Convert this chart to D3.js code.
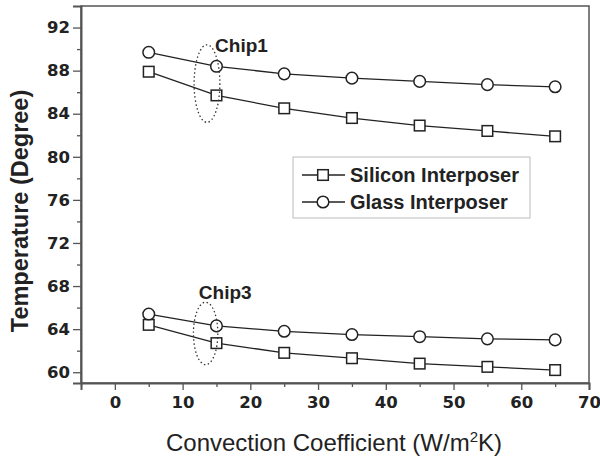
<!DOCTYPE html>
<html>
<head>
<meta charset="utf-8">
<script src="https://cdn.jsdelivr.net/npm/d3@7"></script>
<style>
  html, body { margin: 0; padding: 0; background: #fff; }
  svg { display: block; }
</style>
</head>
<body>
<svg id="chart" width="600" height="457"></svg>
<script>
// Convection coefficient (W/m^2K)
const coefficients = [5, 15, 25, 35, 45, 55, 65];

// Chip temperatures (degree) for each interposer
const siliconChip1 = [87.9, 85.7, 84.5, 83.6, 82.9, 82.4, 81.9];
const glassChip1   = [89.7, 88.4, 87.7, 87.3, 87.0, 86.7, 86.5];
const siliconChip3 = [64.4, 62.7, 61.8, 61.3, 60.8, 60.5, 60.2];
const glassChip3   = [65.4, 64.3, 63.8, 63.5, 63.3, 63.1, 63.0];

const xTicks = [0, 10, 20, 30, 40, 50, 60, 70];
const yTicks = [60, 64, 68, 72, 76, 80, 84, 88, 92];

// Chip group annotations: dotted ellipse centre/radii and label anchor, in data units
const chipNames   = ["Chip1", "Chip3"];
const chipCenterX = [13.6, 13.4];
const chipCenterY = [86.8, 63.6];
const chipRadiusX = [1.9, 1.8];
const chipRadiusY = [3.6, 2.9];
const chipLabelX  = [14.8, 12.4];
const chipLabelY  = [89.7, 66.8];

const legendNames = ["Silicon Interposer", "Glass Interposer"];

const svg = d3.select("#chart");
const margin = { left: 81, right: 11, top: 6, bottom: 74 };
const W = 600, H = 457;
const x = d3.scaleLinear().domain([-5, 70]).range([margin.left, W - margin.right]);
const y = d3.scaleLinear().domain([59, 94]).range([H - margin.bottom, margin.top]);

const ink = "#222";
const tickFont = "'DejaVu Sans', sans-serif";
const sans = "'Liberation Sans', Arial, sans-serif";

// Plot frame
svg.append("rect")
  .attr("x", x(-5)).attr("y", y(94))
  .attr("width", x(70) - x(-5)).attr("height", y(59) - y(94))
  .attr("fill", "none").attr("stroke", "#555").attr("stroke-width", 1.5);

// Minor ticks
const g = svg.append("g");
g.append("g")
  .attr("transform", `translate(0,${y(59)})`)
  .call(d3.axisBottom(x).tickValues(d3.range(-5, 70, 10)).tickSize(4).tickFormat(""))
  .call(s => s.select(".domain").remove())
  .selectAll("line").attr("stroke", "#555").attr("stroke-width", 1.3);
g.append("g")
  .attr("transform", `translate(${x(-5)},0)`)
  .call(d3.axisLeft(y).tickValues(d3.range(62, 94, 4)).tickSize(4).tickFormat(""))
  .call(s => s.select(".domain").remove())
  .selectAll("line").attr("stroke", "#555").attr("stroke-width", 1.3);

// Major axes
const xAxis = svg.append("g")
  .attr("transform", `translate(0,${y(59)})`)
  .call(d3.axisBottom(x).tickValues(xTicks).tickSize(7).tickPadding(6));
const yAxis = svg.append("g")
  .attr("transform", `translate(${x(-5)},0)`)
  .call(d3.axisLeft(y).tickValues(yTicks).tickSize(8).tickPadding(3));

[xAxis, yAxis].forEach(a => {
  a.select(".domain").attr("stroke", "#555").attr("stroke-width", 2);
  a.selectAll(".tick line").attr("stroke", "#555").attr("stroke-width", 1.3);
  a.selectAll(".tick text")
    .attr("fill", ink)
    .style("font-family", tickFont)
    .style("font-weight", "bold")
    .style("font-size", "16.5px");
});

// Axis titles
svg.append("text")
  .attr("x", 334).attr("y", 451)
  .attr("text-anchor", "middle")
  .attr("fill", ink)
  .style("font-family", sans)
  .style("font-size", "24px")
  .html('Convection Coefficient (W/m<tspan dy="-9" font-size="15px">2</tspan><tspan dy="9">K)</tspan>');

svg.append("text")
  .attr("transform", `translate(28,211) rotate(-90)`)
  .attr("text-anchor", "middle")
  .attr("fill", ink)
  .style("font-family", sans)
  .style("font-weight", "bold")
  .style("font-size", "23.5px")
  .text("Temperature (Degree)");

// Series
const line = d3.line().x((d, i) => x(coefficients[i])).y(d => y(d));
const series = [
  { values: siliconChip1, shape: "square" },
  { values: glassChip1,   shape: "circle" },
  { values: siliconChip3, shape: "square" },
  { values: glassChip3,   shape: "circle" }
];

function drawMarker(sel, shape) {
  if (shape === "circle") {
    sel.append("circle").attr("r", 5.8);
  } else {
    sel.append("rect").attr("x", -5.3).attr("y", -5.3).attr("width", 10.6).attr("height", 10.6);
  }
  sel.selectAll("circle, rect")
    .attr("fill", "#fff").attr("stroke", ink).attr("stroke-width", 1.5);
}

series.forEach(s => {
  svg.append("path")
    .datum(s.values)
    .attr("d", line)
    .attr("fill", "none")
    .attr("stroke", ink)
    .attr("stroke-width", 1.3);
  svg.append("g").selectAll("g")
    .data(s.values)
    .join("g")
    .attr("transform", (d, i) => `translate(${x(coefficients[i])},${y(d)})`)
    .each(function () { drawMarker(d3.select(this), s.shape); });
});

// Chip annotations
chipNames.forEach((name, i) => {
  svg.append("ellipse")
    .attr("cx", x(chipCenterX[i])).attr("cy", y(chipCenterY[i]))
    .attr("rx", x(chipRadiusX[i]) - x(0))
    .attr("ry", y(0) - y(chipRadiusY[i]))
    .attr("fill", "none").attr("stroke", "#333")
    .attr("stroke-width", 1.3).attr("stroke-dasharray", "1.5,2.5");
  svg.append("text")
    .attr("x", x(chipLabelX[i])).attr("y", y(chipLabelY[i]))
    .attr("fill", ink)
    .style("font-family", sans)
    .style("font-weight", "bold")
    .style("font-size", "19px")
    .text(name);
});

// Legend
const legend = svg.append("g").attr("transform", "translate(293,157)");
legend.append("rect")
  .attr("width", 237).attr("height", 61)
  .attr("fill", "#fff").attr("stroke", "#bbb").attr("stroke-width", 1);
legendNames.forEach((name, i) => {
  const row = legend.append("g").attr("transform", `translate(0,${18 + i * 27})`);
  row.append("line").attr("x1", 9).attr("x2", 52).attr("y1", 0).attr("y2", 0)
    .attr("stroke", ink).attr("stroke-width", 1.3);
  const m = row.append("g").attr("transform", "translate(30,0)");
  drawMarker(m, i === 0 ? "square" : "circle");
  row.append("text")
    .attr("x", 57).attr("y", 7)
    .attr("fill", ink)
    .style("font-family", sans)
    .style("font-weight", "bold")
    .style("font-size", "20px")
    .text(name);
});
</script>
</body>
</html>
